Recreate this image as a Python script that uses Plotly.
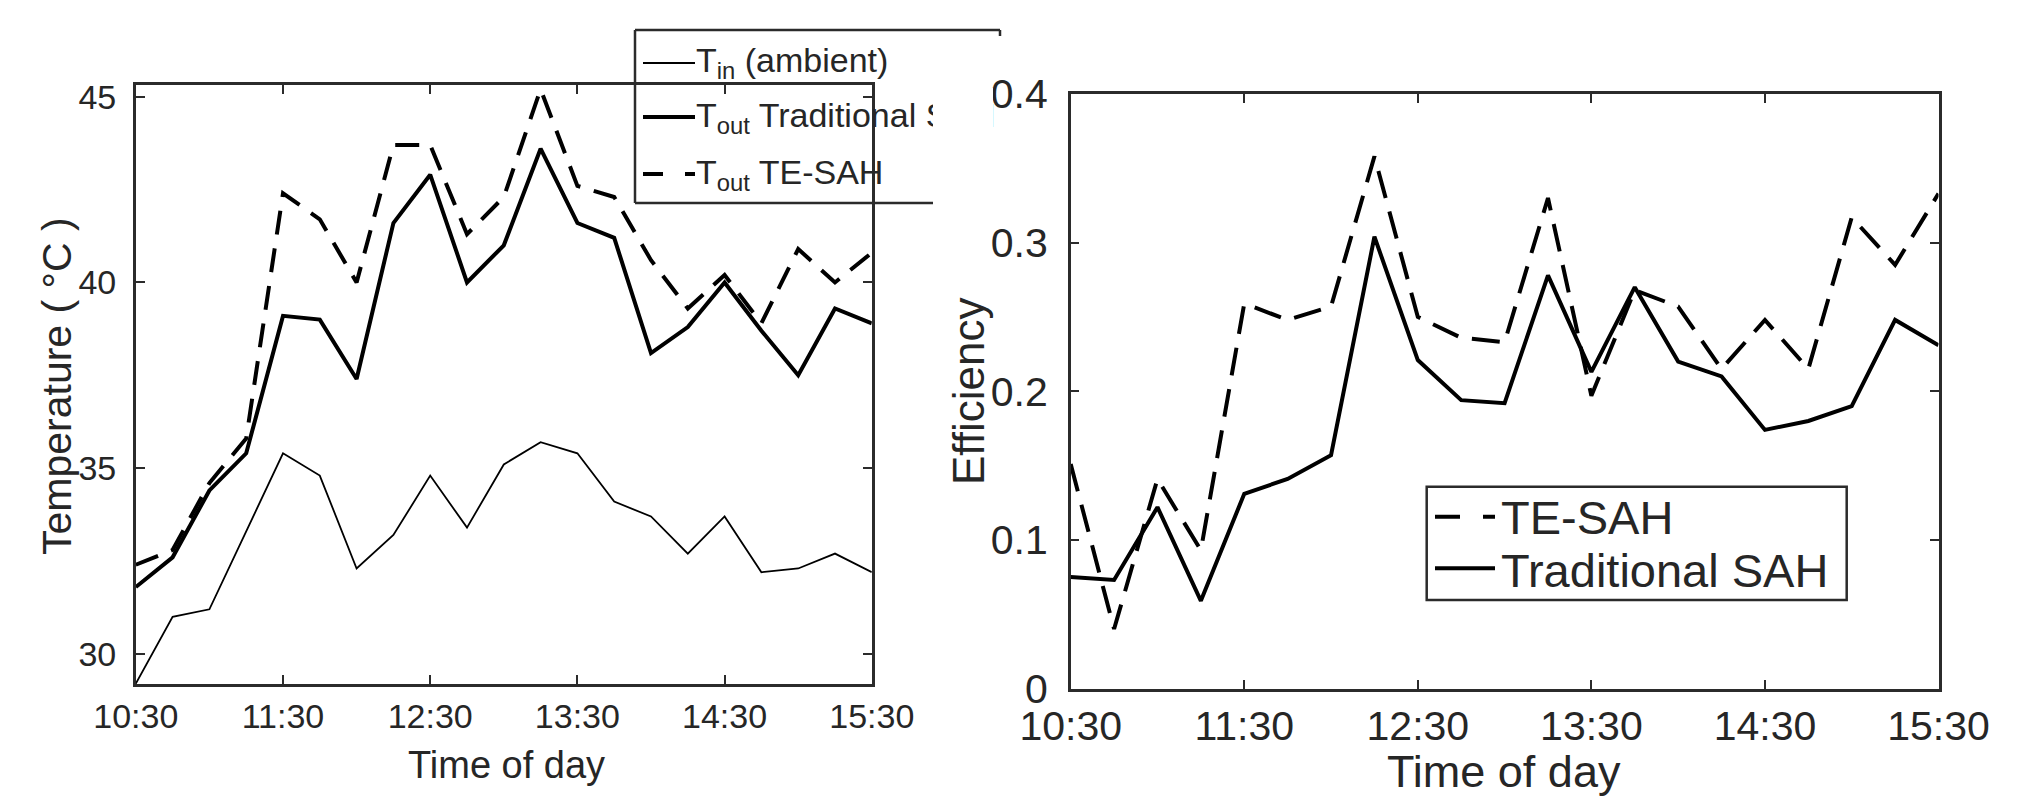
import plotly.graph_objects as go

# ---------------- data ----------------
times = ["10:30", "10:45", "11:00", "11:15", "11:30", "11:45", "12:00", "12:15",
         "12:30", "12:45", "13:00", "13:15", "13:30", "13:45", "14:00", "14:15",
         "14:30", "14:45", "15:00", "15:15", "15:30"]

t_in = [29.2, 31.0, 31.2, 33.3, 35.4, 34.8, 32.3, 33.2, 34.8, 33.4, 35.1,
        35.7, 35.4, 34.1, 33.7, 32.7, 33.7, 32.2, 32.3, 32.7, 32.2]
t_out_trad = [31.8, 32.6, 34.4, 35.4, 39.1, 39.0, 37.4, 41.6, 42.9, 40.0, 41.0,
              43.6, 41.6, 41.2, 38.1, 38.8, 40.0, 38.7, 37.5, 39.3, 38.9]
t_out_te = [32.4, 32.8, 34.6, 35.8, 42.4, 41.7, 40.0, 43.7, 43.7, 41.3, 42.3,
            45.2, 42.6, 42.3, 40.6, 39.3, 40.2, 38.9, 40.9, 40.0, 40.8]

eff_te = [0.151, 0.040, 0.141, 0.093, 0.259, 0.248, 0.257, 0.358, 0.250, 0.236, 0.233,
          0.330, 0.197, 0.268, 0.257, 0.215, 0.248, 0.215, 0.317, 0.285, 0.333]
eff_trad = [0.075, 0.073, 0.122, 0.059, 0.131, 0.141, 0.157, 0.304, 0.221, 0.194, 0.192,
            0.278, 0.213, 0.270, 0.220, 0.210, 0.174, 0.180, 0.190, 0.248, 0.231]

x_tick_labels = ["10:30", "11:30", "12:30", "13:30", "14:30", "15:30"]
temp_ticks = [30, 35, 40, 45]
eff_ticks = [0, 0.1, 0.2, 0.3, 0.4]
eff_tick_labels = ["0", "0.1", "0.2", "0.3", "0.4"]


def to_hours(s):
    h, m = s.split(":")
    return int(h) + int(m) / 60.0


x = [to_hours(t) for t in times]
xt = [to_hours(t) for t in x_tick_labels]

# ---------------- helpers ----------------
# the page body has an 8px margin: the figure starts 8px in, so every
# page-pixel position is shifted by that margin
OFF = 8
W, H = 2019 - OFF, 796 - OFF


def px(v):
    return (v - OFF) / W


def py(v):
    return 1 - (v - OFF) / H


FONT = "Liberation Sans, Arial, Helvetica, sans-serif"
TXT = "#262626"
AX = "#2b2b2b"

fig = go.Figure()

fig.add_trace(go.Scatter(x=x, y=t_in, mode="lines", name="T_in (ambient)",
                         line=dict(color="black", width=1.8), xaxis="x", yaxis="y"))
fig.add_trace(go.Scatter(x=x, y=t_out_trad, mode="lines", name="T_out Traditional SAH",
                         line=dict(color="black", width=4), xaxis="x", yaxis="y"))
fig.add_trace(go.Scatter(x=x, y=t_out_te, mode="lines", name="T_out TE-SAH",
                         line=dict(color="black", width=4, dash="24px,14px"), xaxis="x", yaxis="y"))
fig.add_trace(go.Scatter(x=x, y=eff_te, mode="lines", name="TE-SAH",
                         line=dict(color="black", width=4, dash="28px,14px"), xaxis="x2", yaxis="y2"))
fig.add_trace(go.Scatter(x=x, y=eff_trad, mode="lines", name="Traditional SAH",
                         line=dict(color="black", width=4), xaxis="x2", yaxis="y2"))

axis_common = dict(showline=True, linecolor=AX, linewidth=2.5, mirror="ticks",
                   ticks="inside", ticklen=9, tickwidth=2, tickcolor=AX,
                   showgrid=False, zeroline=False, automargin=False)

fig.update_layout(
    template="none",
    width=W, height=H,
    margin=dict(l=0, r=0, t=0, b=0, pad=0, autoexpand=False),
    paper_bgcolor="white", plot_bgcolor="white",
    showlegend=False,
    font=dict(family=FONT, color=TXT),
    xaxis=dict(domain=[px(135.8), px(871.8)], range=[10.5, 15.5], anchor="y",
               tickmode="array", tickvals=xt, ticktext=x_tick_labels,
               tickfont=dict(size=34, family=FONT, color=TXT), **axis_common),
    yaxis=dict(domain=[py(684), py(85)], range=[29.19, 45.315], anchor="x",
               tickmode="array", tickvals=temp_ticks, ticklabelstandoff=10,
               tickfont=dict(size=34, family=FONT, color=TXT), **axis_common),
    xaxis2=dict(domain=[px(1070.7), px(1938.5)], range=[10.5, 15.5], anchor="y2",
                tickmode="array", tickvals=xt, ticktext=x_tick_labels,
                tickfont=dict(size=41, family=FONT, color=TXT), **axis_common),
    yaxis2=dict(domain=[py(688.5), py(94)], range=[0, 0.4], anchor="x2",
                tickmode="array", tickvals=eff_ticks, ticktext=eff_tick_labels,
                ticklabelstandoff=12,
                tickfont=dict(size=41, family=FONT, color=TXT), **axis_common),
)

shapes = []
ann = []


def pline(x0, y0, x1, y1, width=2.5, color=AX, dash="solid"):
    shapes.append(dict(type="line", xref="paper", yref="paper",
                       x0=px(x0), y0=py(y0), x1=px(x1), y1=py(y1),
                       line=dict(color=color, width=width, dash=dash)))


def text(t, xx, yy, size, xanchor="left", yanchor="middle", angle=0):
    ann.append(dict(text=t, xref="paper", yref="paper", x=px(xx), y=py(yy),
                    xanchor=xanchor, yanchor=yanchor, showarrow=False,
                    textangle=angle, font=dict(size=size, family=FONT, color=TXT)))


# ---- legend of left panel (partly hidden by the right panel) ----
pline(635, 30, 1000, 30)
pline(1000, 30, 1000, 36)
pline(635, 30, 635, 203)
pline(635, 203, 933, 203)
pline(643, 63, 695, 63, width=1.8, color="black")
pline(643, 117, 695, 117, width=4, color="black")
pline(643, 174, 695, 174, width=4, color="black", dash="20px,22px")
text("T<sub>in</sub> (ambient)", 694, 63, 34)
text("T<sub>out</sub> Traditional SAH", 694, 117, 34)
text("T<sub>out</sub> TE-SAH", 694, 174, 34)
# white cover to clip the legend text where the right panel overlaps it
ann.append(dict(text=" ", xref="paper", yref="paper", x=px(933), y=py(88),
                xanchor="left", yanchor="top", showarrow=False, width=60, height=62,
                bgcolor="white", borderpad=0, borderwidth=0))

# ---- legend of right panel ----
shapes.append(dict(type="rect", xref="paper", yref="paper",
                   x0=px(1426.7), y0=py(600), x1=px(1846.7), y1=py(486.7),
                   line=dict(color=AX, width=2.5), fillcolor="white", layer="above"))
pline(1435, 516.7, 1495, 516.7, width=4, color="black", dash="25px,23px")
pline(1435, 568.3, 1495, 568.3, width=4, color="black")
text("TE-SAH", 1499, 517.5, 47)
text("Traditional SAH", 1499, 570, 47)

# ---- axis titles ----
text("Time of day", 506, 765, 38, xanchor="center")
text("Temperature ( °C )", 57, 386, 41, xanchor="center", angle=-90)
text("Time of day", 1504, 771, 45, xanchor="center")
text("Efficiency", 968, 391, 44, xanchor="center", angle=-90)

fig.update_layout(shapes=shapes, annotations=ann)
fig.write_html("out.html")
